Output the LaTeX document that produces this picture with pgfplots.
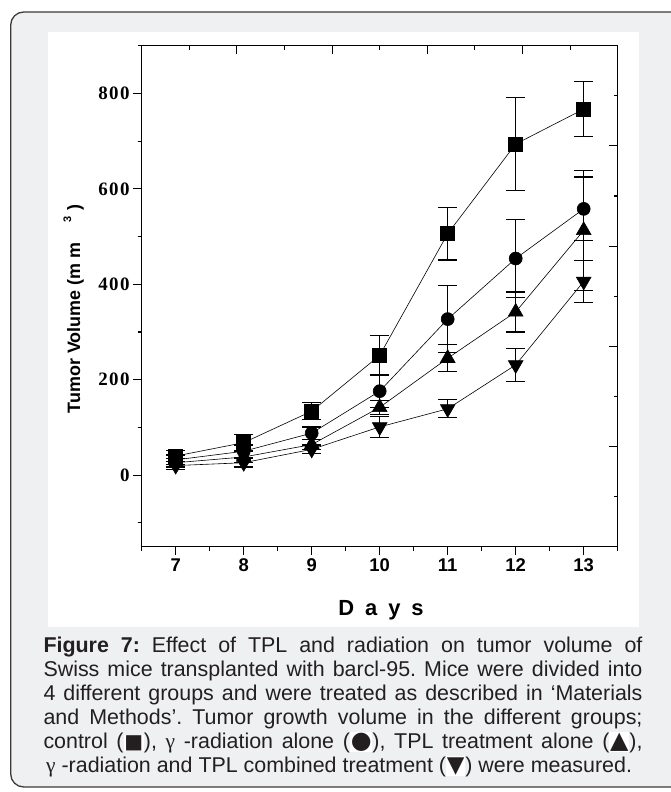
\documentclass[border=0pt]{standalone}
\usepackage{pgfplots}
\pgfplotsset{compat=1.18}
\usepackage{fontspec}
\setmainfont{Liberation Sans}
\newfontfamily\serifgr{Liberation Serif}
\newfontfamily\ytfont{Liberation Serif}[LetterSpace=8]
\newfontfamily\dejavu{DejaVu Sans}
\definecolor{framegray}{HTML}{EFF0F2}
\definecolor{framerule}{HTML}{3A3A3A}
\definecolor{captext}{HTML}{231F20}

\pgfplotstableread{
x y e
7 40 12
8 68 17
9 134 18
10 251 41
11 506 55
12 694 97
13 767 58
}\control
\pgfplotstableread{
x y e
7 32 10
8 50 13
9 88 13
10 176 34
11 327 70
12 454 82
13 558 67
}\gammarad
\pgfplotstableread{
x y e
7 26 9
8 38 11
9 64 10
10 142 15
11 245 28
12 342 42
13 513 126
}\tpl
\pgfplotstableread{
x y e
7 20 8
8 26 9
9 54 9
10 101 22
11 139 19
12 231 34
13 406 44
}\combined

\newcommand{\symbox}[2]{{\setlength{\fboxsep}{0.8bp}\colorbox{white}{\dejavu\fontsize{#1}{#1}\selectfont #2}}}

\begin{document}
\frenchspacing
\begin{tikzpicture}
\path[use as bounding box] (0,0) rectangle (671bp,792bp);
\begin{scope}
\clip (0,0) rectangle (671bp,792bp);
\draw[rounded corners=13bp, fill=framegray, draw=framerule, line width=1.3bp]
  (10.7bp,5bp) rectangle (700bp,780bp);
\end{scope}
\fill[white] (48bp,165.3bp) rectangle (639bp,760bp);

\pgfplotsset{
  frame axis/.style={
    at={(141.7bp,245.3bp)}, anchor=south west,
    scale only axis, width=476bp, height=501bp,
    xmin=6.5, xmax=13.5, ymin=-150, ymax=900,
    axis line style={line width=1.3bp},
    major tick length=8.5bp, minor tick length=4bp,
    every tick/.style={black, line width=1.1bp},
    /pgf/number format/assume math mode=true,
  },
  grp/.style={
    black, line width=0.6bp,
    mark options={solid, fill=black},
    error bars/y dir=both, error bars/y explicit,
    error bars/error bar style={line width=1.2bp},
    error bars/error mark options={rotate=90, mark size=9.5bp, line width=1.2bp},
  },
}

% top and right ticks of the frame
\begin{axis}[frame axis,
  xtick={6.5,7.9,9.3,10.7,12.1,13.5},
  minor xtick={7.2,8.6,10,11.4,12.8},
  ytick={-150,60,270,480,690,900},
  minor ytick={-45,165,375,585,795},
  xticklabels={}, yticklabels={},
  xtick pos=top, ytick pos=right, tick align=inside,
]
\end{axis}

\begin{axis}[frame axis,
  xtick={7,8,...,13},
  minor xtick={6.5,7.5,...,13.5},
  ytick={0,200,...,800},
  minor ytick={-100,100,...,900},
  xtick pos=bottom, ytick pos=left, tick align=outside,
  xticklabel style={font=\bfseries\fontsize{18.5}{20}\selectfont},
  yticklabel style={font=\ytfont\bfseries\fontsize{19}{20}\selectfont},
]
\addplot+[grp, mark=square*, mark size=7bp]
  table[x=x, y=y, y error=e] {\control};
\addplot+[grp, mark=*, mark size=6.5bp]
  table[x=x, y=y, y error=e] {\gammarad};
\addplot+[grp, mark=triangle*, mark size=8.5bp]
  table[x=x, y=y, y error=e] {\tpl};
\addplot+[grp, mark=triangle*, mark size=8.5bp, mark options={rotate=180}]
  table[x=x, y=y, y error=e] {\combined};
\end{axis}

% axis titles
\node[anchor=base, inner sep=0] at (381bp,176bp)
  {\bfseries\fontsize{22}{24}\selectfont D\hspace{11bp}a\hspace{11bp}y\hspace{11bp}s};
\node[anchor=base, inner sep=0, rotate=90] at (80bp,483bp)
  {\bfseries\fontsize{18}{20}\selectfont Tumor Volume (m m\hspace{20bp}\raisebox{9bp}{\fontsize{11}{11}\selectfont 3}\hspace{6bp})};

% caption
\begin{scope}[every node/.style={anchor=base west, inner sep=0, text=captext,
    font=\fontsize{21.5}{24}\selectfont}]
\node at (43.3bp,139bp) {\makebox[599bp][s]{\textbf{Figure 7:} Effect of TPL and radiation on tumor volume of}};
\node at (43.3bp,115.2bp) {\makebox[599bp][s]{Swiss mice transplanted with barcl-95. Mice were divided into}};
\node at (43.3bp,91.4bp) {\makebox[599bp][s]{4 different groups and were treated as described in ‘Materials}};
\node at (43.3bp,67.6bp) {\makebox[599bp][s]{and Methods’. Tumor growth volume in the different groups;}};
\node at (43.3bp,43.8bp) {\makebox[599bp][s]{control (\symbox{20}{■}), {\serifgr γ} -radiation alone (\symbox{24}{●}), TPL treatment alone (\symbox{24}{▲}),}};
\node at (46bp,20bp) {{\serifgr γ} -radiation and TPL combined treatment (\symbox{23}{▼}) were measured.};
\end{scope}
\end{tikzpicture}
\end{document}
